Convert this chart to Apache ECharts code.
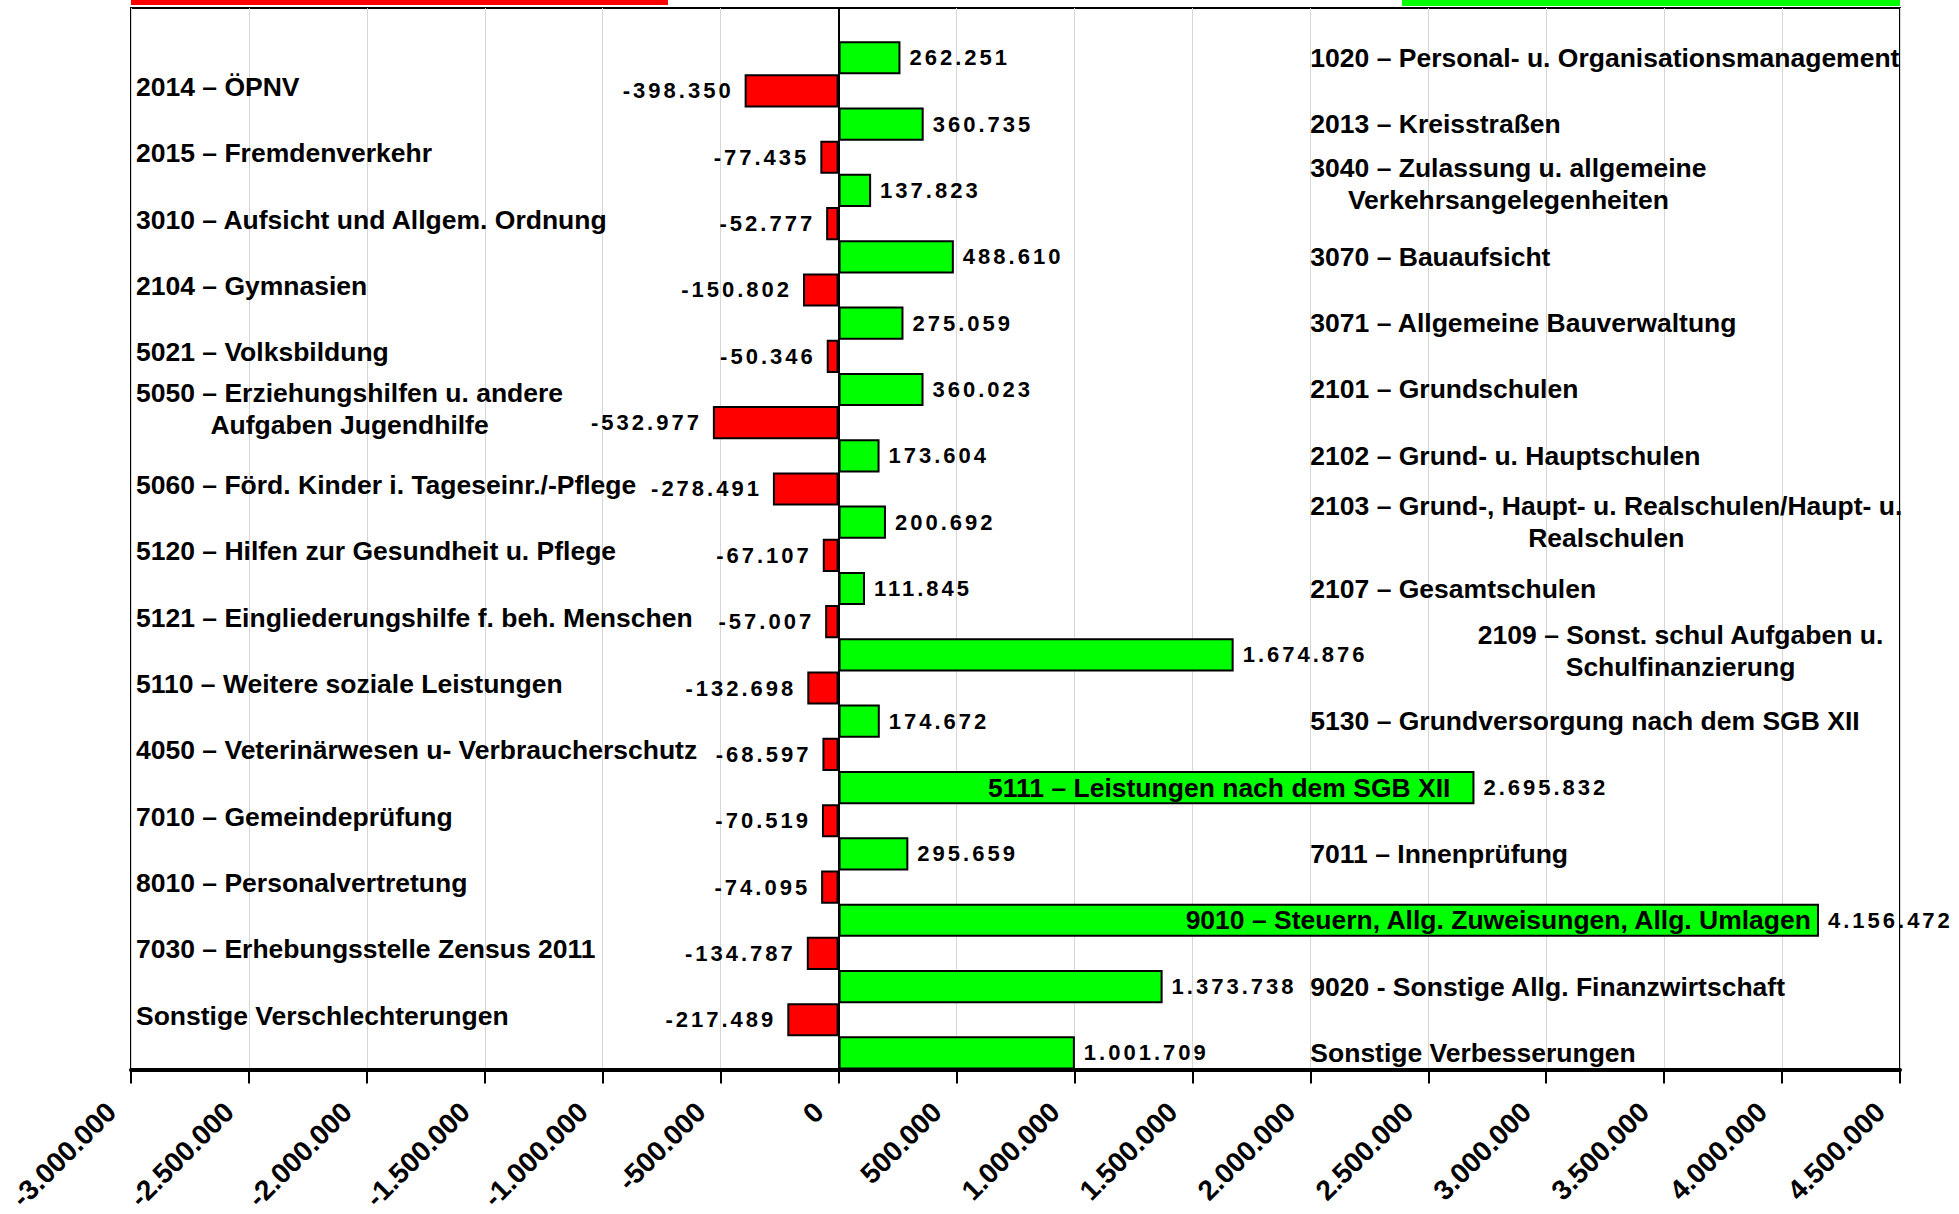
<!DOCTYPE html>
<html lang="de">
<head>
	<meta charset="UTF-8">
	<title>Verbesserungen / Verschlechterungen</title>
	<style>
		html, body { margin: 0; padding: 0; background: #fff; }
	</style>
</head>
<body>
	<div id="chart" style="width: 1959px;height:1214px;"></div>
	<script src="https://cdn.jsdelivr.net/npm/echarts@6/dist/echarts.min.js"></script>
	<script>
		// Verbesserungen (grün) – Produktbereiche und Beträge
		var greenNames = [
			'1020 – Personal- u. Organisationsmanagement',
			'2013 – Kreisstraßen',
			'3040 – Zulassung u. allgemeine\nVerkehrsangelegenheiten',
			'3070 – Bauaufsicht',
			'3071 – Allgemeine Bauverwaltung',
			'2101 – Grundschulen',
			'2102 – Grund- u. Hauptschulen',
			'2103 – Grund-, Haupt- u. Realschulen/Haupt- u.\nRealschulen',
			'2107 – Gesamtschulen',
			'2109 – Sonst. schul Aufgaben u.\nSchulfinanzierung',
			'5130 – Grundversorgung nach dem SGB XII',
			'5111 – Leistungen nach dem SGB XII',
			'7011 – Innenprüfung',
			'9010 – Steuern, Allg. Zuweisungen, Allg. Umlagen',
			'9020 - Sonstige Allg. Finanzwirtschaft',
			'Sonstige Verbesserungen'
		];
		var greenValues = [262251, 360735, 137823, 488610, 275059, 360023, 173604, 200692,
			111845, 1674876, 174672, 2695832, 295659, 4156472, 1373738, 1001709];

		// Verschlechterungen (rot)
		var redNames = [
			'2014 – ÖPNV',
			'2015 – Fremdenverkehr',
			'3010 – Aufsicht und Allgem. Ordnung',
			'2104 – Gymnasien',
			'5021 – Volksbildung',
			'5050 – Erziehungshilfen u. andere\nAufgaben Jugendhilfe',
			'5060 – Förd. Kinder i. Tageseinr./-Pflege',
			'5120 – Hilfen zur Gesundheit u. Pflege',
			'5121 – Eingliederungshilfe f. beh. Menschen',
			'5110 – Weitere soziale Leistungen',
			'4050 – Veterinärwesen u- Verbraucherschutz',
			'7010 – Gemeindeprüfung',
			'8010 – Personalvertretung',
			'7030 – Erhebungsstelle Zensus 2011',
			'Sonstige Verschlechterungen'
		];
		var redValues = [-398350, -77435, -52777, -150802, -50346, -532977, -278491, -67107,
			-57007, -132698, -68597, -70519, -74095, -134787, -217489];

		// Achse
		var xMin = -3000000;
		var xMax = 4500000;
		var xStep = 500000;

		var FONT = '"Liberation Sans", Arial, sans-serif';
		var nameFont = 'bold 26.5px ' + FONT;
		var valueSize = 22;

		// Tausenderpunkte
		function fmt(v) {
			var s = Math.abs(v).toString().replace(/\B(?=(\d{3})+(?!\d))/g, '.');
			return (v < 0 ? '-' : '') + s;
		}

		// Zeilen: oben eine leere, dann abwechselnd grün / rot
		var slotCount = 1 + greenValues.length + redValues.length;
		var slots = [];
		var greenData = [];
		var redData = [];
		for (var s = 0; s < slotCount; s++) {
			slots.push('z' + s);
			greenData.push(null);
			redData.push(null);
		}
		greenValues.forEach(function(v, i) { greenData[1 + 2 * i] = v; });
		redValues.forEach(function(v, i) { redData[2 + 2 * i] = v; });

		var myChart = echarts.init(document.getElementById('chart'), null, { renderer: 'svg' });

		var option = {
			animation: false,
			backgroundColor: '#fff',
			grid: {
				left: 131, right: 59, top: 8, bottom: 140,
				show: true, borderColor: '#000', borderWidth: 2
			},
			xAxis: {
				type: 'value',
				min: xMin, max: xMax, interval: xStep,
				axisLine: { show: true, onZero: false, lineStyle: { color: '#000', width: 4 } },
				axisTick: { show: true, length: 14, lineStyle: { color: '#000', width: 2 } },
				splitLine: { show: true, lineStyle: { color: '#d6d6d6', width: 1 } },
				axisLabel: {
					rotate: 45, margin: 18, color: '#000',
					padding: [0, 28, 0, 0],
					fontFamily: FONT, fontWeight: 'bold', fontSize: 28,
					formatter: function(v) { return fmt(v); }
				}
			},
			yAxis: {
				type: 'category',
				inverse: true,
				data: slots,
				axisLine: { show: true, onZero: true, lineStyle: { color: '#000', width: 2 } },
				axisTick: { show: false },
				axisLabel: { show: false },
				splitLine: { show: false }
			},
			series: [{
				name: 'Verbesserungen',
				type: 'bar',
				data: greenData,
				barGap: '-100%',
				barCategoryGap: '0%',
				itemStyle: { color: '#00ff00', borderColor: '#000', borderWidth: 2 },
				label: {
					show: true, position: 'right', distance: 9, color: '#000',
					fontFamily: FONT, fontWeight: 'bold', fontSize: valueSize,
					formatter: function(p) { return fmt(p.value); }
				}
			}, {
				name: 'Verschlechterungen',
				type: 'bar',
				data: redData,
				barGap: '-100%',
				barCategoryGap: '0%',
				itemStyle: { color: '#ff0000', borderColor: '#000', borderWidth: 2 },
				label: {
					show: true, position: 'left', distance: 11, color: '#000',
					fontFamily: FONT, fontWeight: 'bold', fontSize: valueSize,
					formatter: function(p) { return fmt(p.value); }
				}
			}]
		};

		myChart.setOption(option);

		// Beschriftungen der Produktbereiche
		var measure = document.createElement('canvas').getContext('2d');
		measure.font = nameFont;
		function lineWidth(t) { return measure.measureText(t.split('\n')[0]).width; }

		function yOf(slot) { return myChart.convertToPixel({ yAxisIndex: 0 }, slots[slot]); }
		function xOf(v) { return myChart.convertToPixel({ xAxisIndex: 0 }, v); }

		function nameText(text, x, y, align) {
			// mehrzeilige Texte sind zentriert wie im Original
			if (text.indexOf('\n') >= 0 && align === 'left') {
				x = x + lineWidth(text) / 2;
				align = 'center';
			}
			return {
				type: 'text', x: x, y: y, z: 10,
				style: { text: text, font: nameFont, fill: '#000', align: align, verticalAlign: 'middle', lineHeight: 32 }
			};
		}

		var graphics = [];
		var leftX = xOf(xMin) + 5;
		redNames.forEach(function(n, i) {
			var dy = n.indexOf('\n') >= 0 ? -14 : -4;
			graphics.push(nameText(n, leftX, yOf(2 + 2 * i) + dy, 'left'));
		});

		var rightX = xOf(2000000);
		greenNames.forEach(function(n, i) {
			var y = yOf(1 + 2 * i);
			if (i === 11) {
				graphics.push(nameText(n, xOf(greenValues[i]) - 24, y, 'right'));
			} else if (i === 13) {
				graphics.push(nameText(n, xOf(greenValues[i]) - 8, y, 'right'));
			} else if (i === 9) {
				graphics.push(nameText(n, rightX + 167, y - 4, 'left'));
			} else if (i === 2) {
				graphics.push(nameText(n, rightX, y - 6, 'left'));
			} else {
				graphics.push(nameText(n, rightX, y, 'left'));
			}
		});

		// farbige Balken am oberen Rand
		graphics.push({ type: 'rect', shape: { x: 131, y: 0, width: 537, height: 5 }, style: { fill: '#ff0000' } });
		graphics.push({ type: 'rect', shape: { x: 1402, y: 0, width: 498, height: 6 }, style: { fill: '#00ff00' } });

		myChart.setOption({ graphic: graphics });

		// Wertbeschriftungen sind im Original gesperrt gesetzt
		function spaceValueLabels() {
			var texts = document.querySelectorAll('#chart svg text');
			for (var k = 0; k < texts.length; k++) {
				var t = texts[k];
				if (/^-?\d{1,3}(\.\d{3})+$/.test(t.textContent) &&
					Math.abs(parseFloat(getComputedStyle(t).fontSize) - valueSize) < 0.5) {
					t.setAttribute('letter-spacing', '3');
				}
			}
		}
		spaceValueLabels();
		myChart.on('finished', spaceValueLabels);
	</script>
</body>
</html>
